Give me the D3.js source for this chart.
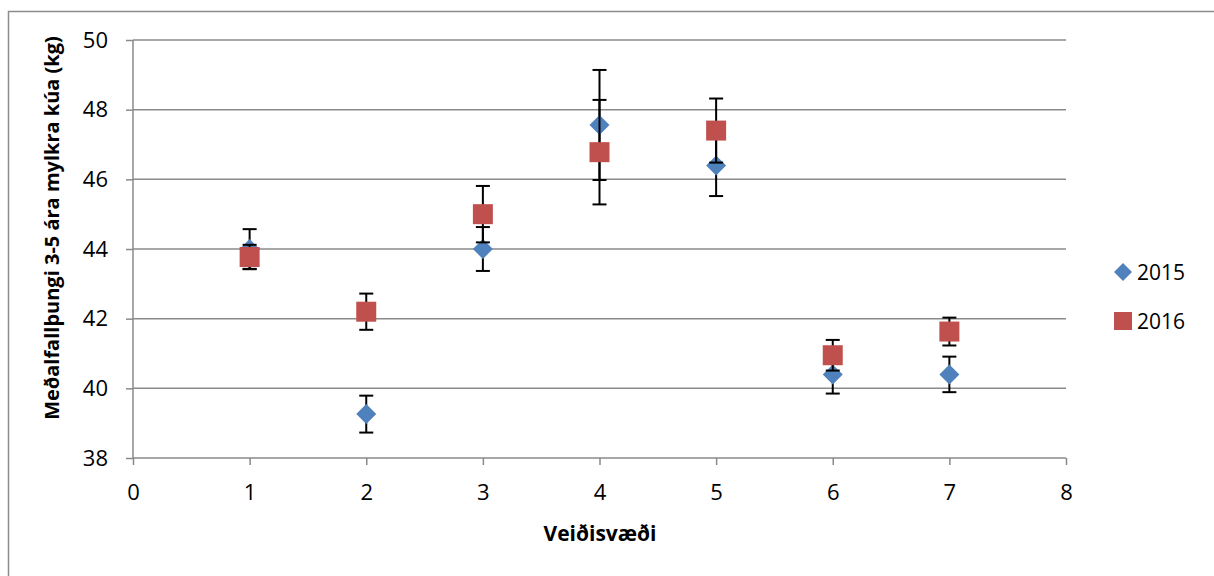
<!DOCTYPE html>
<html>
<head>
<meta charset="utf-8">
<script src="https://cdn.jsdelivr.net/npm/d3@7"></script>
<style>
  body { margin: 0; background: #fff; }
  text { font-family: "Open Sans", "Noto Sans", sans-serif; }
</style>
</head>
<body>
<script>
"use strict"

// data
var zones = [1, 2, 3, 4, 5, 6, 7];
var mean2015 = [44.0, 39.26, 44.0, 47.56, 46.4, 40.4, 40.4];
var err2015 = [0.57, 0.53, 0.63, 1.58, 0.88, 0.55, 0.51];
var mean2016 = [43.77, 42.2, 45.0, 46.78, 47.4, 40.95, 41.63];
var err2016 = [0.35, 0.52, 0.81, 1.5, 0.92, 0.44, 0.4];
var xTicks = [0, 1, 2, 3, 4, 5, 6, 7, 8];
var yTicks = [38, 40, 42, 44, 46, 48, 50];
var seriesNames = ["2015", "2016"];

var width = 1214, height = 576;
var svg = d3.select("body").append("svg")
    .attr("width", width)
    .attr("height", height);

// outer chart frame
svg.append("rect")
    .attr("x", 8.5).attr("y", 11.5)
    .attr("width", 1220).attr("height", 580)
    .attr("fill", "none")
    .attr("stroke", "#8c8c8c")
    .attr("stroke-width", 1.5);

var x = d3.scaleLinear().domain([0, 8]).range([133, 1066]);
var y = d3.scaleLinear().domain([38, 50]).range([458, 40]);

// gridlines
svg.append("g").selectAll("line")
    .data(yTicks.slice(1))
  .enter().append("line")
    .attr("x1", x(0)).attr("x2", x(8))
    .attr("y1", function(d) { return y(d); })
    .attr("y2", function(d) { return y(d); })
    .attr("stroke", "#8a8a8a")
    .attr("stroke-width", 1.5);

var yAxis = svg.append("g")
    .attr("transform", "translate(" + x(0) + ",0)")
    .call(d3.axisLeft(y).tickValues(yTicks).tickSize(7).tickPadding(18));
var xAxis = svg.append("g")
    .attr("transform", "translate(0," + y(38) + ")")
    .call(d3.axisBottom(x).tickValues(xTicks).tickSize(7).tickPadding(19));

[yAxis, xAxis].forEach(function(ax) {
    ax.select(".domain").attr("stroke", "#8a8a8a").attr("stroke-width", 1.5);
    ax.selectAll(".tick line").attr("stroke", "#8a8a8a").attr("stroke-width", 1.5);
    ax.selectAll(".tick text")
        .attr("font-size", "22px")
        .attr("fill", "#000");
});
xAxis.selectAll(".tick text").attr("dy", "0.71em");
yAxis.select(".domain").attr("d", "M0," + y(50) + "V" + y(38));
xAxis.select(".domain").attr("d", "M" + x(0) + ",0H" + x(8));

// axis titles
svg.append("text")
    .attr("x", 600).attr("y", 541)
    .attr("text-anchor", "middle")
    .attr("font-size", "21px")
    .attr("font-weight", "bold")
    .text("Veiðisvæði");

svg.append("text")
    .attr("transform", "translate(59,228) rotate(-90)")
    .attr("text-anchor", "middle")
    .attr("font-size", "20px")
    .attr("font-weight", "bold")
    .text("Meðalfallþungi 3-5 ára mylkra kúa (kg)");

var diamond = "M0,-10L10,0L0,10L-10,0Z";
var square = "M-10,-10H10V10H-10Z";

function drawSeries(means, errs, shape, color) {
    var g = svg.append("g");
    var rows = zones.map(function(z, i) { return {x: z, m: means[i], e: errs[i]}; });
    var eb = g.selectAll(".eb").data(rows).enter().append("g")
        .attr("stroke", "#000").attr("stroke-width", 2);
    eb.append("line")
        .attr("x1", function(d) { return x(d.x); })
        .attr("x2", function(d) { return x(d.x); })
        .attr("y1", function(d) { return y(d.m - d.e); })
        .attr("y2", function(d) { return y(d.m + d.e); });
    eb.append("line")
        .attr("x1", function(d) { return x(d.x) - 7; })
        .attr("x2", function(d) { return x(d.x) + 7; })
        .attr("y1", function(d) { return y(d.m + d.e); })
        .attr("y2", function(d) { return y(d.m + d.e); });
    eb.append("line")
        .attr("x1", function(d) { return x(d.x) - 7; })
        .attr("x2", function(d) { return x(d.x) + 7; })
        .attr("y1", function(d) { return y(d.m - d.e); })
        .attr("y2", function(d) { return y(d.m - d.e); });
    g.selectAll(".pt").data(rows).enter().append("path")
        .attr("d", shape)
        .attr("transform", function(d) { return "translate(" + x(d.x) + "," + y(d.m) + ")"; })
        .attr("fill", color);
}

drawSeries(mean2015, err2015, diamond, "#4f81bd");
drawSeries(mean2016, err2016, square, "#c0504d");

// legend
var legend = svg.append("g");
var legendShapes = ["M0,-9L9,0L0,9L-9,0Z", "M-9,-9H9V9H-9Z"];
var legendColors = ["#4f81bd", "#c0504d"];
seriesNames.forEach(function(name, i) {
    var ly = 272 + i * 49;
    legend.append("path")
        .attr("d", legendShapes[i])
        .attr("transform", "translate(1123," + ly + ")")
        .attr("fill", legendColors[i]);
    legend.append("text")
        .attr("x", 1137).attr("y", ly + 8)
        .attr("font-size", "21px")
        .text(name);
});
</script>
</body>
</html>
